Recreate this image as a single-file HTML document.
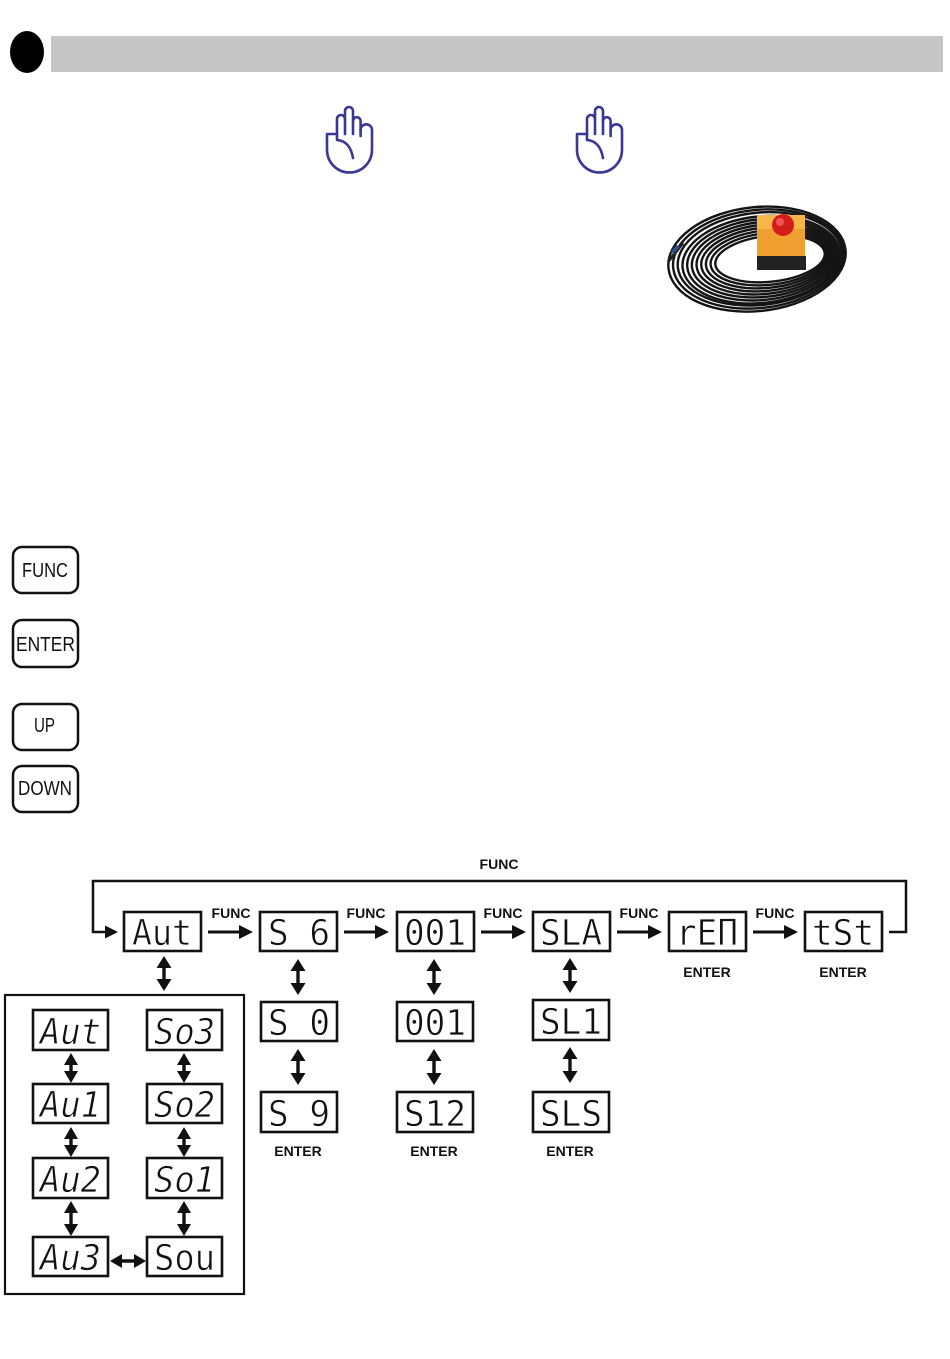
<!DOCTYPE html>
<html><head><meta charset="utf-8"><style>
html,body{margin:0;padding:0;background:#fff;}
svg{display:block;}
.lbl{font-family:"Liberation Sans",Arial,sans-serif;font-weight:bold;font-size:14px;fill:#111;}
.seg{font-family:"DejaVu Sans Mono","Liberation Mono",monospace;font-size:36px;fill:#111;stroke:#fff;stroke-width:0.7;}
.segi{font-family:"DejaVu Sans Mono","Liberation Mono",monospace;font-size:36px;font-style:italic;fill:#111;stroke:#fff;stroke-width:0.7;}
.btn{font-family:"Liberation Sans",Arial,sans-serif;font-size:20px;fill:#111;}
</style></head><body>
<svg width="950" height="1359" viewBox="0 0 950 1359" xmlns="http://www.w3.org/2000/svg">
<!-- header -->
<ellipse cx="27" cy="52" rx="17" ry="21" fill="#000"/>
<rect x="51" y="36" width="892" height="36" fill="#c6c6c6"/>

<!-- hand icons -->
<g fill="none" stroke="#3a3796" stroke-width="2.6" stroke-linecap="round" stroke-linejoin="round">
  <g id="hand">
    <path d="M327,134 H337 V119 a4,4 0 0 1 8,0 V111 a4,4 0 0 1 8,0 V121 a3.8,3.8 0 0 1 7.6,0 V130 a5.7,5.7 0 0 1 11.4,0 V150 a22.5,22.5 0 0 1 -45,0 Z"/>
    <path d="M345,119 V134 M353,121 V134 M360.6,130 V136"/>
    <path d="M337,134 V140 Q350,141 353,158"/>
  </g>
  <use href="#hand" x="250"/>
</g>

<!-- cable coil image -->
<g fill="none" stroke="#141414" stroke-width="2.4" transform="rotate(-6 758 259)">
  <ellipse cx="757" cy="259" rx="89" ry="52"/>
  <ellipse cx="758.3" cy="259" rx="85.6" ry="49.1"/>
  <ellipse cx="759.6" cy="259" rx="82.2" ry="46.2"/>
  <ellipse cx="760.9" cy="260" rx="78.8" ry="43.3"/>
  <ellipse cx="762.2" cy="260" rx="75.4" ry="40.4"/>
  <ellipse cx="763.5" cy="260" rx="72" ry="37.5"/>
  <ellipse cx="764.8" cy="260" rx="68.6" ry="34.6"/>
  <ellipse cx="766.1" cy="260" rx="65.2" ry="31.7"/>
  <ellipse cx="767.4" cy="260" rx="61.8" ry="28.8"/>
  <ellipse cx="768.7" cy="260" rx="58.4" ry="25.9"/>
  <ellipse cx="770" cy="260" rx="55" ry="23"/>
</g>
<path d="M668,262 L683,243" stroke="#222" stroke-width="3"/>
<path d="M672,253 L678,246" stroke="#2d4f8c" stroke-width="4"/>
<!-- box -->
<rect x="757" y="215" width="48" height="45" fill="#f0a030"/>
<rect x="757" y="215" width="48" height="14" fill="#f6b648"/>
<rect x="757" y="256" width="49" height="14" fill="#222"/>
<circle cx="783" cy="225" r="11" fill="#d41c1c"/>
<circle cx="780" cy="222" r="4" fill="#ee5555"/>

<!-- keys -->
<g fill="none" stroke="#111" stroke-width="2.5">
  <rect x="13" y="547" width="65" height="46" rx="9"/>
  <rect x="13" y="620" width="65" height="47" rx="9"/>
  <rect x="13" y="704" width="65" height="46" rx="9"/>
  <rect x="13" y="766" width="65" height="46" rx="9"/>
</g>
<text class="btn" x="22" y="577" textLength="46" lengthAdjust="spacingAndGlyphs">FUNC</text>
<text class="btn" x="16" y="651" textLength="59" lengthAdjust="spacingAndGlyphs">ENTER</text>
<text class="btn" x="34" y="732" textLength="21" lengthAdjust="spacingAndGlyphs">UP</text>
<text class="btn" x="18" y="795" textLength="54" lengthAdjust="spacingAndGlyphs">DOWN</text>

<!-- diagram: top loop -->
<polyline points="889,932 906,932 906,881 93,881 93,932 108,932" fill="none" stroke="#111" stroke-width="2.5"/>
<polygon points="105,925.5 118,932 105,938.5" fill="#111"/>
<text class="lbl" x="499" y="869" text-anchor="middle">FUNC</text>

<!-- boxes -->
<g fill="none" stroke="#111" stroke-width="2.6">
  <rect x="124" y="912" width="77" height="39"/>
  <rect x="260" y="912" width="77" height="39"/>
  <rect x="397" y="912" width="77" height="39"/>
  <rect x="533" y="912" width="77" height="39"/>
  <rect x="669" y="912" width="77" height="39"/>
  <rect x="805" y="912" width="77" height="39"/>
  <rect x="261" y="1002" width="76" height="39"/>
  <rect x="397" y="1002" width="76" height="39"/>
  <rect x="533" y="1000" width="76" height="40"/>
  <rect x="261" y="1092" width="76" height="40"/>
  <rect x="397" y="1092" width="76" height="40"/>
  <rect x="533" y="1092" width="76" height="40"/>
</g>
<text class="seg" x="132" y="945" textLength="60" lengthAdjust="spacingAndGlyphs">Aut</text>
<text class="seg" x="268" y="945" textLength="62" lengthAdjust="spacingAndGlyphs">S 6</text>
<text class="seg" x="404" y="945" textLength="62" lengthAdjust="spacingAndGlyphs">001</text>
<text class="seg" x="540" y="945" textLength="62" lengthAdjust="spacingAndGlyphs">SLA</text>
<text class="seg" x="676" y="945" textLength="62" lengthAdjust="spacingAndGlyphs">rEΠ</text>
<text class="seg" x="812" y="945" textLength="62" lengthAdjust="spacingAndGlyphs">tSt</text>
<text class="seg" x="268" y="1035" textLength="62" lengthAdjust="spacingAndGlyphs">S 0</text>
<text class="seg" x="404" y="1035" textLength="62" lengthAdjust="spacingAndGlyphs">001</text>
<text class="seg" x="540" y="1034" textLength="62" lengthAdjust="spacingAndGlyphs">SL1</text>
<text class="seg" x="268" y="1126" textLength="62" lengthAdjust="spacingAndGlyphs">S 9</text>
<text class="seg" x="404" y="1126" textLength="62" lengthAdjust="spacingAndGlyphs">S12</text>
<text class="seg" x="540" y="1126" textLength="62" lengthAdjust="spacingAndGlyphs">SLS</text>

<!-- horizontal FUNC arrows -->
<g stroke="#111" stroke-width="3">
  <line x1="208" y1="932" x2="242" y2="932"/>
  <line x1="344" y1="932" x2="378" y2="932"/>
  <line x1="481" y1="932" x2="515" y2="932"/>
  <line x1="617" y1="932" x2="651" y2="932"/>
  <line x1="753" y1="932" x2="787" y2="932"/>
</g>
<g fill="#111">
  <polygon points="239,925 253,932 239,939"/>
  <polygon points="375,925 389,932 375,939"/>
  <polygon points="512,925 526,932 512,939"/>
  <polygon points="648,925 662,932 648,939"/>
  <polygon points="784,925 798,932 784,939"/>
</g>
<text class="lbl" x="231" y="918" text-anchor="middle">FUNC</text>
<text class="lbl" x="366" y="918" text-anchor="middle">FUNC</text>
<text class="lbl" x="503" y="918" text-anchor="middle">FUNC</text>
<text class="lbl" x="639" y="918" text-anchor="middle">FUNC</text>
<text class="lbl" x="775" y="918" text-anchor="middle">FUNC</text>

<text class="lbl" x="707" y="977" text-anchor="middle">ENTER</text>
<text class="lbl" x="843" y="977" text-anchor="middle">ENTER</text>
<text class="lbl" x="298" y="1156" text-anchor="middle">ENTER</text>
<text class="lbl" x="434" y="1156" text-anchor="middle">ENTER</text>
<text class="lbl" x="570" y="1156" text-anchor="middle">ENTER</text>

<!-- vertical double arrows -->
<g stroke="#111" stroke-width="3.4">
  <line x1="164" y1="965" x2="164" y2="983"/>
  <line x1="298" y1="968" x2="298" y2="987"/>
  <line x1="298" y1="1058" x2="298" y2="1077"/>
  <line x1="434" y1="968" x2="434" y2="987"/>
  <line x1="434" y1="1058" x2="434" y2="1077"/>
  <line x1="570" y1="967" x2="570" y2="985"/>
  <line x1="570" y1="1056" x2="570" y2="1075"/>
  <line x1="71" y1="1061" x2="71" y2="1075"/>
  <line x1="71" y1="1135" x2="71" y2="1149"/>
  <line x1="71" y1="1209" x2="71" y2="1228"/>
  <line x1="184" y1="1061" x2="184" y2="1075"/>
  <line x1="184" y1="1135" x2="184" y2="1149"/>
  <line x1="184" y1="1209" x2="184" y2="1228"/>
  <line x1="120" y1="1261" x2="137" y2="1261"/>
</g>
<g fill="#111">
  <polygon points="164,956 156.5,968 171.5,968"/><polygon points="164,991 156.5,979 171.5,979"/>
  <polygon points="298,959 290.5,971 305.5,971"/><polygon points="298,995 290.5,983 305.5,983"/>
  <polygon points="298,1049 290.5,1061 305.5,1061"/><polygon points="298,1085 290.5,1073 305.5,1073"/>
  <polygon points="434,959 426.5,971 441.5,971"/><polygon points="434,995 426.5,983 441.5,983"/>
  <polygon points="434,1049 426.5,1061 441.5,1061"/><polygon points="434,1085 426.5,1073 441.5,1073"/>
  <polygon points="570,958 562.5,970 577.5,970"/><polygon points="570,993 562.5,981 577.5,981"/>
  <polygon points="570,1047 562.5,1059 577.5,1059"/><polygon points="570,1083 562.5,1071 577.5,1071"/>
  <polygon points="71,1053 64,1065 78,1065"/><polygon points="71,1083 64,1071 78,1071"/>
  <polygon points="71,1127 64,1139 78,1139"/><polygon points="71,1157 64,1145 78,1145"/>
  <polygon points="71,1201 64,1213 78,1213"/><polygon points="71,1236 64,1224 78,1224"/>
  <polygon points="184,1053 177,1065 191,1065"/><polygon points="184,1083 177,1071 191,1071"/>
  <polygon points="184,1127 177,1139 191,1139"/><polygon points="184,1157 177,1145 191,1145"/>
  <polygon points="184,1201 177,1213 191,1213"/><polygon points="184,1236 177,1224 191,1224"/>
  <polygon points="110,1261 122,1254 122,1268"/><polygon points="146,1261 134,1254 134,1268"/>
</g>

<!-- left group box -->
<rect x="5" y="995" width="239" height="299" fill="none" stroke="#111" stroke-width="2.2"/>
<g fill="none" stroke="#111" stroke-width="2.6">
  <rect x="33" y="1010" width="75" height="40"/>
  <rect x="33" y="1084" width="75" height="39"/>
  <rect x="33" y="1158" width="75" height="40"/>
  <rect x="33" y="1237" width="75" height="39"/>
  <rect x="147" y="1010" width="75" height="40"/>
  <rect x="147" y="1084" width="75" height="39"/>
  <rect x="147" y="1158" width="75" height="40"/>
  <rect x="147" y="1237" width="75" height="39"/>
</g>
<text class="segi" x="40" y="1044" textLength="61" lengthAdjust="spacingAndGlyphs">Aut</text>
<text class="segi" x="40" y="1117" textLength="61" lengthAdjust="spacingAndGlyphs">Au1</text>
<text class="segi" x="40" y="1192" textLength="61" lengthAdjust="spacingAndGlyphs">Au2</text>
<text class="segi" x="40" y="1270" textLength="61" lengthAdjust="spacingAndGlyphs">Au3</text>
<text class="segi" x="154" y="1044" textLength="61" lengthAdjust="spacingAndGlyphs">So3</text>
<text class="segi" x="154" y="1117" textLength="61" lengthAdjust="spacingAndGlyphs">So2</text>
<text class="segi" x="154" y="1192" textLength="61" lengthAdjust="spacingAndGlyphs">So1</text>
<text class="seg" x="154" y="1270" textLength="61" lengthAdjust="spacingAndGlyphs">Sou</text>
</svg>
</body></html>
